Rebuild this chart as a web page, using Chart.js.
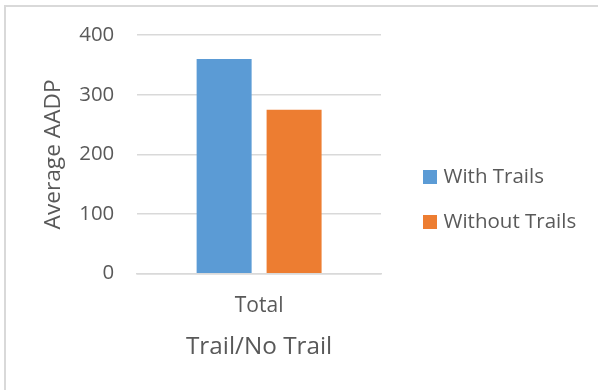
<!DOCTYPE html>
<html>
<head>
<meta charset="utf-8">
<script src="https://cdn.jsdelivr.net/npm/chart.js@4.4.0/dist/chart.umd.min.js"></script>
<style>
  html, body { margin: 0; padding: 0; background: #fff; }
  #wrap { position: relative; width: 598px; height: 390px; overflow: hidden; }
  #frame { position: absolute; left: 4px; top: 5px; width: 700px; height: 500px;
           border-left: 2px solid #d9d9d9; border-top: 2px solid #d9d9d9; pointer-events: none; }
  canvas { position: absolute; left: 0; top: 0; }
</style>
</head>
<body>
<div id="wrap">
  <canvas id="c" width="598" height="390"></canvas>
  <div id="frame"></div>
</div>
<script>
// Average AADP by trail presence
const categories = ['Total'];
const seriesNames = ['With Trails', 'Without Trails'];
const withTrails = [360];
const withoutTrails = [275];
const yTicks = [0, 100, 200, 300, 400];

const FONT = '"Open Sans", Lato, sans-serif';
const TEXT = '#595959';
const GRID = '#d9d9d9';

// Legend to the right of the plot, built from the chart's datasets
const sideLegend = {
  id: 'sideLegend',
  afterDraw(chart, args, opts) {
    const ctx = chart.ctx;
    ctx.save();
    ctx.font = opts.size + 'px ' + FONT;
    ctx.textBaseline = 'middle';
    ctx.textAlign = 'left';
    chart.data.datasets.forEach((ds, i) => {
      const cy = opts.top + i * opts.gap;
      ctx.fillStyle = ds.backgroundColor;
      ctx.fillRect(opts.x, cy - opts.box / 2, opts.box, opts.box);
      ctx.fillStyle = TEXT;
      ctx.fillText(ds.label, opts.x + opts.box + 6.5, cy);
    });
    ctx.restore();
  }
};

function draw() {
  new Chart(document.getElementById('c'), {
    type: 'bar',
    data: {
      labels: categories,
      datasets: [
        { label: seriesNames[0], data: withTrails, backgroundColor: '#5b9bd5' },
        { label: seriesNames[1], data: withoutTrails, backgroundColor: '#ed7d31' }
      ]
    },
    plugins: [sideLegend],
    options: {
      responsive: false,
      animation: false,
      devicePixelRatio: 1,
      categoryPercentage: 0.574,
      barPercentage: 0.786,
      layout: { padding: { left: 40, right: 217, top: 25, bottom: 28 } },
      plugins: {
        tooltip: { enabled: false },
        legend: { display: false },
        sideLegend: { x: 423, top: 177, gap: 45, box: 14, size: 20.5 }
      },
      scales: {
        y: {
          min: 0, max: 400,
          afterBuildTicks: (s) => { s.ticks = yTicks.map(v => ({ value: v })); },
          grid: { color: GRID, lineWidth: 1.5, drawTicks: false },
          border: { display: false },
          ticks: { color: TEXT, padding: 23, font: { family: FONT, size: 20.4 } },
          title: { display: true, text: 'Average AADP', color: TEXT, padding: { top: 0, bottom: -11 },
                   font: { family: FONT, size: 22.7 } }
        },
        x: {
          grid: { display: false, drawTicks: false },
          border: { display: true, color: GRID, width: 1.5 },
          ticks: { color: TEXT, padding: 20, font: { family: FONT, size: 21 } },
          title: { display: true, text: 'Trail/No Trail', color: TEXT, padding: { top: -6, bottom: 0 },
                   font: { family: FONT, size: 24.3 } }
        }
      }
    }
  });
}

document.fonts.load('20px "Open Sans"').then(draw, draw);
</script>
</body>
</html>
